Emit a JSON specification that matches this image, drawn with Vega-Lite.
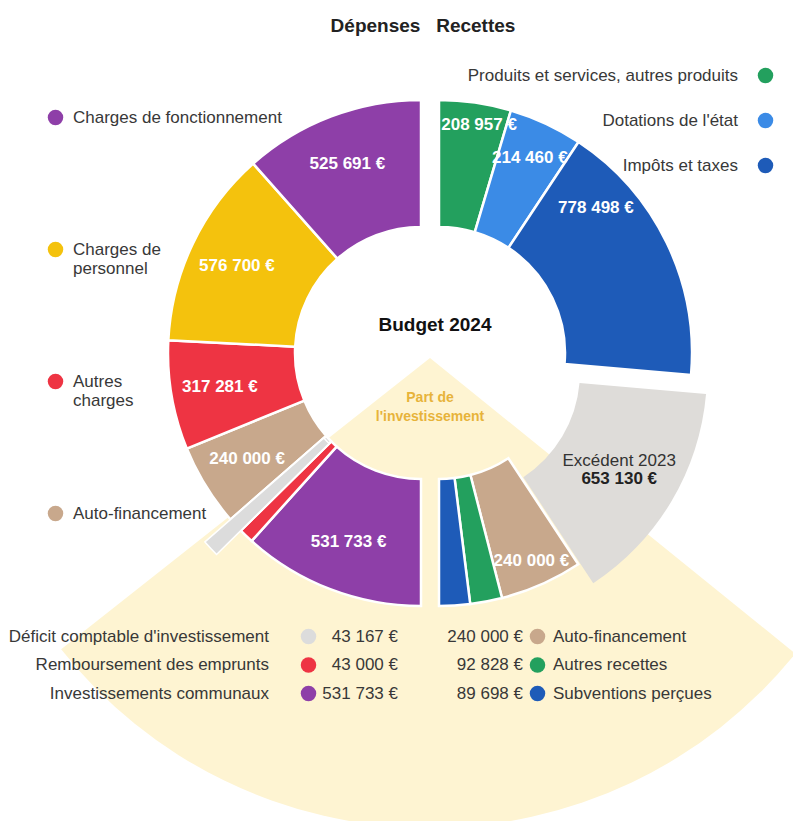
{
  "$schema": "https://vega.github.io/schema/vega-lite/v6.json",
  "width": 726,
  "height": 606,
  "autosize": {"type": "none"},
  "padding": {"left": 67, "top": 50, "right": 0, "bottom": 165},
  "background": "white",
  "config": {
    "view": {"stroke": null},
    "font": "Liberation Sans",
    "legend": {"padding": 0, "labelFont": "Liberation Sans", "labelFontSize": 17, "labelColor": "#383838", "symbolType": "circle", "symbolSize": 240, "symbolStrokeWidth": 0, "labelLimit": 500}
  },
  "title": {"text": "Dépenses \u00a0 Recettes", "fontSize": 19, "fontWeight": "bold", "color": "#222222", "anchor": "middle", "frame": "group", "offset": 14, "dx": -7, "font": "Liberation Sans"},
  "layer": [
    {
      "data": {"values": [{"part": "Part de l'investissement", "value": 1}]},
      "layer": [
        {"mark": {"type": "arc", "radius": 470, "radius2": 0, "yOffset": 5, "fill": "#FEF4D2"},
         "encoding": {"theta": {"field": "value", "type": "quantitative", "scale": {"range": [2.251, 4.044]}}}},
        {"mark": {"type": "text", "fontSize": 19, "fontWeight": "bold", "fill": "#111111", "dx": 5, "dy": -28},
         "encoding": {"text": {"value": "Budget 2024"}}},
        {"mark": {"type": "text", "fontSize": 14, "fontWeight": "bold", "fill": "#E7B33A", "baseline": "top", "dy": 38, "lineHeight": 19},
         "encoding": {"text": {"value": ["Part de", "l'investissement"]}}}
      ]
    },
    {
      "data": {"values": [
        {"cat": "Auto-financement", "value": 240000, "ord": 1, "lab": "240 000 €"},
        {"cat": "Autres charges", "value": 317281, "ord": 2, "lab": "317 281 €"},
        {"cat": "Charges de personnel", "value": 576700, "ord": 3, "lab": "576 700 €"},
        {"cat": "Charges de fonctionnement", "value": 525691, "ord": 4, "lab": "525 691 €"}
      ]},
      "encoding": {
        "theta": {"field": "value", "type": "quantitative", "stack": true, "scale": {"range": [3.993904, 6.283185]}},
        "order": {"field": "ord", "type": "quantitative"}
      },
      "layer": [
        {"mark": {"type": "arc", "radius": 253, "radius2": 126, "xOffset": -9, "stroke": "white", "strokeWidth": 2.5},
         "encoding": {"color": {"field": "cat", "type": "nominal",
           "scale": {"domain": ["Charges de fonctionnement", "Charges de personnel", "Autres charges", "Auto-financement"], "range": ["#8E3FA8", "#F4C20D", "#EE3443", "#C8A88C"]},
           "legend": {"title": null, "orient": "none", "legendX": -20, "legendY": 59, "labelOffset": 9, "rowPadding": 95,
             "labelExpr": "datum.label === 'Charges de personnel' ? ['Charges de', 'personnel'] : datum.label === 'Autres charges' ? ['Autres', 'charges'] : [datum.label, ' ']"}}}},
        {"mark": {"type": "text", "radius": 202, "xOffset": -11, "fill": "white", "fontWeight": "bold", "fontSize": 17},
         "encoding": {"text": {"field": "lab"}, "detail": {"field": "cat"}}}
      ]
    },
    {
      "data": {"values": [
        {"cat": "Produits et services, autres produits", "value": 208957, "ord": 1, "lab": "208 957 €"},
        {"cat": "Dotations de l'état", "value": 214460, "ord": 2, "lab": "214 460 €"},
        {"cat": "Impôts et taxes", "value": 778498, "ord": 3, "lab": "778 498 €"}
      ]},
      "encoding": {
        "theta": {"field": "value", "type": "quantitative", "stack": true, "scale": {"range": [0, 1.65789]}},
        "order": {"field": "ord", "type": "quantitative"}
      },
      "layer": [
        {"mark": {"type": "arc", "radius": 253, "radius2": 126, "xOffset": 9, "stroke": "white", "strokeWidth": 2.5},
         "encoding": {"color": {"field": "cat", "type": "nominal",
           "scale": {"domain": ["Produits et services, autres produits", "Dotations de l'état", "Impôts et taxes"], "range": ["#23A05E", "#3B8BE6", "#1E5BB8"]},
           "legend": {"title": null, "orient": "none", "legendX": 690, "legendY": 17, "labelOffset": -36, "labelAlign": "right", "rowPadding": 27}}}},
        {"mark": {"type": "text", "radius": 230, "xOffset": 16, "fill": "white", "fontWeight": "bold", "fontSize": 17},
         "encoding": {"text": {"condition": {"test": "datum.ord === 1", "field": "lab"}, "value": ""}, "detail": {"field": "cat"}}},
        {"mark": {"type": "text", "radius": 215, "xOffset": 9, "fill": "white", "fontWeight": "bold", "fontSize": 17},
         "encoding": {"text": {"condition": {"test": "datum.ord === 2", "field": "lab"}, "value": ""}, "detail": {"field": "cat"}}},
        {"mark": {"type": "text", "radius": 222, "xOffset": -34, "yOffset": -48, "fill": "white", "fontWeight": "bold", "fontSize": 17},
         "encoding": {"text": {"condition": {"test": "datum.ord === 3", "field": "lab"}, "value": ""}, "detail": {"field": "cat"}}}
      ]
    },
    {
      "data": {"values": [{"cat": "Excédent 2023", "value": 653130, "lab": "653 130 €"}]},
      "encoding": {
        "theta": {"field": "value", "type": "quantitative", "stack": true, "scale": {"range": [1.65789, 2.55878]}}
      },
      "layer": [
        {"mark": {"type": "arc", "radius": 253, "radius2": 126, "xOffset": 24, "yOffset": 19, "fill": "#DEDCD9"}},
        {"mark": {"type": "text", "radius": 190, "xOffset": 26, "yOffset": 20, "dy": -9, "fill": "#333333", "fontSize": 17},
         "encoding": {"text": {"field": "cat"}, "detail": {"field": "cat"}}},
        {"mark": {"type": "text", "radius": 190, "xOffset": 26, "yOffset": 20, "dy": 9, "fill": "#222222", "fontSize": 17, "fontWeight": "bold"},
         "encoding": {"text": {"field": "lab"}, "detail": {"field": "cat"}}}
      ]
    },
    {
      "data": {"values": [
        {"cat": "Investissements communaux", "value": 531733, "ord": 1, "lab": "531 733 €"},
        {"cat": "Remboursement des emprunts", "value": 43000, "ord": 2, "lab": "43 000 €"},
        {"cat": "Déficit comptable d'investissement", "value": 43167, "ord": 3, "lab": "43 167 €"}
      ]},
      "encoding": {
        "theta": {"field": "value", "type": "quantitative", "stack": true, "scale": {"range": [3.141593, 3.993904]}},
        "order": {"field": "ord", "type": "quantitative"},
        "color": {"field": "cat", "type": "nominal",
           "scale": {"domain": ["Déficit comptable d'investissement", "Remboursement des emprunts", "Investissements communaux"], "range": ["#DCDCDC", "#EE3443", "#8E3FA8"]},
           "legend": {"title": null, "orient": "none", "legendX": 233, "legendY": 578, "labelOffset": -48, "labelAlign": "right", "rowPadding": 10.5}}
      },
      "layer": [
        {"mark": {"type": "arc", "radius": 253, "radius2": 126, "xOffset": -9, "strokeWidth": 2.5},
         "encoding": {"stroke": {"field": "lab", "type": "nominal",
           "scale": {"domain": ["43 167 €", "43 000 €", "531 733 €"], "range": ["white", "white", "white"]},
           "legend": {"title": null, "orient": "none", "legendX": 300, "legendY": 578, "labelOffset": 14, "labelAlign": "right", "rowPadding": 10.5, "symbolOpacity": 0}}}},
        {"mark": {"type": "arc", "radius": 287, "radius2": 129, "xOffset": -9, "stroke": "white", "strokeWidth": 1.5},
         "encoding": {"opacity": {"condition": {"test": "datum.ord === 3", "value": 1}, "value": 0}}},
        {"mark": {"type": "text", "radius": 202, "xOffset": -9, "fill": "white", "fontWeight": "bold", "fontSize": 17},
         "encoding": {"text": {"condition": {"test": "datum.ord === 1", "field": "lab"}, "value": ""}, "color": {"value": "white"}}}
      ]
    },
    {
      "data": {"values": [
        {"cat": "Auto-financement", "value": 240000, "ord": 1, "lab": "240 000 €"},
        {"cat": "Autres recettes", "value": 92828, "ord": 2, "lab": "92 828 €"},
        {"cat": "Subventions perçues", "value": 89698, "ord": 3, "lab": "89 698 €"}
      ]},
      "encoding": {
        "theta": {"field": "value", "type": "quantitative", "stack": true, "scale": {"range": [2.55878, 3.141593]}},
        "order": {"field": "ord", "type": "quantitative"}
      },
      "layer": [
        {"mark": {"type": "arc", "radius": 253, "radius2": 126, "xOffset": 9, "strokeWidth": 2.5},
         "encoding": {
           "color": {"field": "cat", "type": "nominal",
             "scale": {"domain": ["Auto-financement", "Autres recettes", "Subventions perçues"], "range": ["#C8A88C", "#23A05E", "#1E5BB8"]},
             "legend": {"title": null, "orient": "none", "legendX": 462, "legendY": 578, "labelOffset": 7, "rowPadding": 10.5}},
           "stroke": {"field": "lab", "type": "nominal",
             "scale": {"domain": ["240 000 €", "92 828 €", "89 698 €"], "range": ["white", "white", "white"]},
             "legend": {"title": null, "orient": "none", "legendX": 420, "legendY": 578, "labelOffset": 19, "labelAlign": "right", "rowPadding": 10.5, "symbolOpacity": 0}}}},
        {"mark": {"type": "text", "radius": 228, "xOffset": 9, "fill": "white", "fontWeight": "bold", "fontSize": 17},
         "encoding": {"text": {"condition": {"test": "datum.ord === 1", "field": "lab"}, "value": ""}, "detail": {"field": "cat"}}}
      ]
    }
  ],
  "resolve": {"scale": {"theta": "independent", "color": "independent", "stroke": "independent"}}
}
